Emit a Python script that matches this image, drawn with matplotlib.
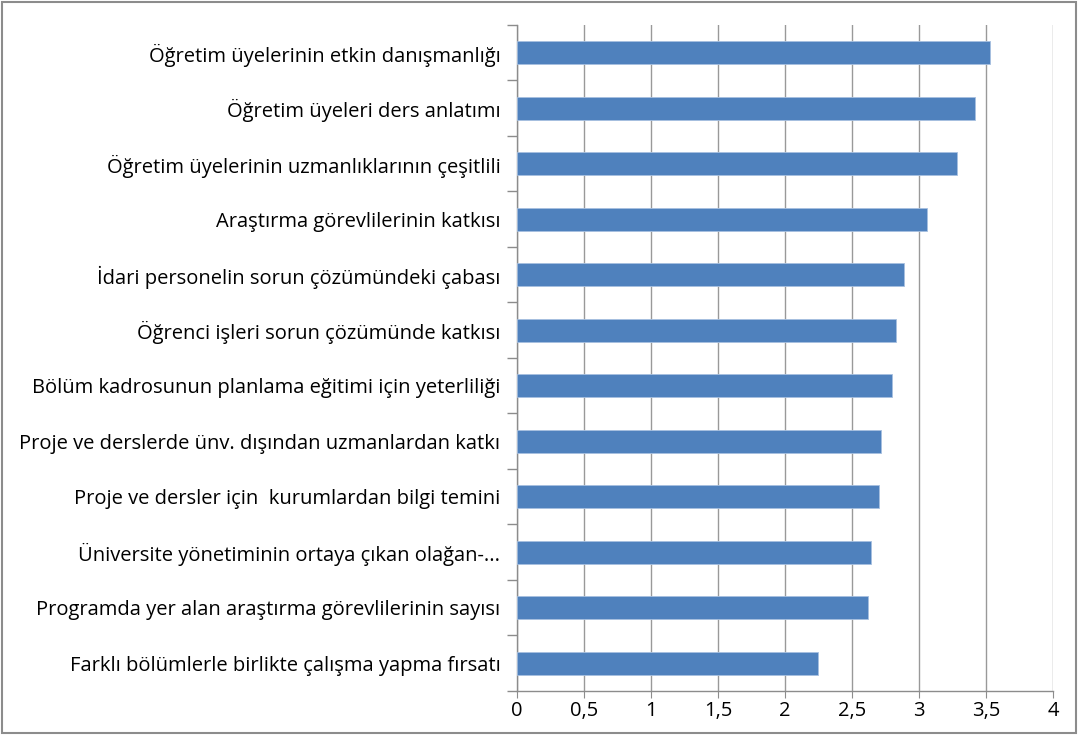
import matplotlib
matplotlib.use('Agg')
import matplotlib.pyplot as plt
import numpy as np

# ─── DATA (top bar first) ────────────────────────────────────────
categories = [
    "Öğretim üyelerinin etkin danışmanlığı",
    "Öğretim üyeleri ders anlatımı",
    "Öğretim üyelerinin uzmanlıklarının çeşitlili",
    "Araştırma görevlilerinin katkısı",
    "İdari personelin sorun çözümündeki çabası",
    "Öğrenci işleri sorun çözümünde katkısı",
    "Bölüm kadrosunun planlama eğitimi için yeterliliği",
    "Proje ve derslerde ünv. dışından uzmanlardan katkı",
    "Proje ve dersler için  kurumlardan bilgi temini",
    "Üniversite yönetiminin ortaya çıkan olağan-...",
    "Programda yer alan araştırma görevlilerinin sayısı",
    "Farklı bölümlerle birlikte çalışma yapma fırsatı",
]
scores = [3.53, 3.42, 3.28, 3.06, 2.89, 2.83, 2.80, 2.72, 2.70, 2.64, 2.62, 2.25]
xticks = [0, 0.5, 1, 1.5, 2, 2.5, 3, 3.5, 4]
xtick_labels = ["0", "0,5", "1", "1,5", "2", "2,5", "3", "3,5", "4"]

plt.rcParams['font.family'] = ['Open Sans', 'DejaVu Sans']

fig = plt.figure(figsize=(10.78, 7.35), dpi=100)
ax = fig.add_axes([0.4796, 0.0599, 0.4972, 0.9061])

n = len(categories)
y = np.arange(n)[::-1]
ax.barh(y, scores, height=0.42, color='#4F81BD', edgecolor='#a7c0e0', linewidth=0.6, zorder=3)

ax.set_xlim(0, 4)
ax.set_ylim(-0.5, n - 0.5)
ax.set_xticks(xticks)
ax.set_xticklabels(xtick_labels, fontsize=14.5)
ax.set_yticks(y)
ax.set_yticklabels(categories, fontsize=14.5)
ax.tick_params(axis='y', length=0, pad=12)
ax.tick_params(axis='x', length=5, color='#8c8c8c', pad=2)

# category boundary ticks on the left axis
ax.set_yticks(np.arange(-0.5, n, 1), minor=True)
ax.tick_params(axis='y', which='minor', length=7, color='#8c8c8c', width=1)

ax.grid(axis='x', color='#999999', linewidth=1, zorder=0)
for s in ['top', 'right']:
    ax.spines[s].set_visible(False)
for s in ['left', 'bottom']:
    ax.spines[s].set_color('#8c8c8c')
    ax.spines[s].set_linewidth(1)

# chart area border
fig.patches.append(plt.Rectangle((0.002, 0.003), 0.996, 0.994, transform=fig.transFigure,
                                 fill=False, edgecolor='#8c8c8c', linewidth=1.5))

fig.savefig('out.png', dpi=100)
